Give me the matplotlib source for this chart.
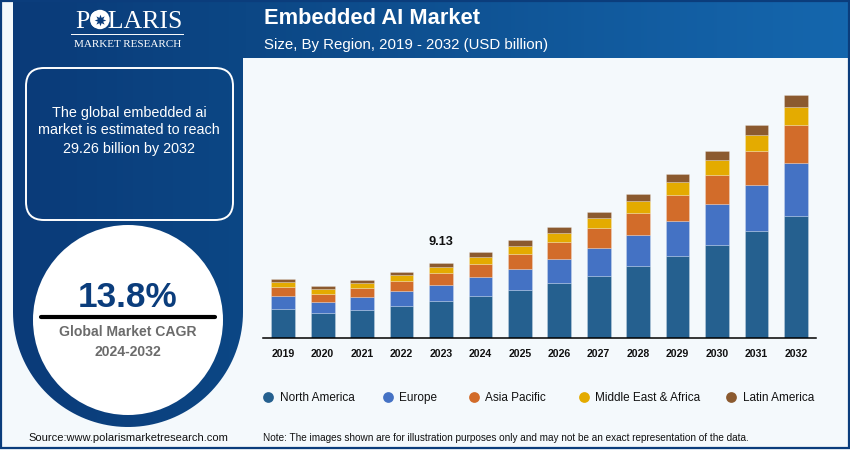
import numpy as np
import matplotlib
matplotlib.use("Agg")
import matplotlib.pyplot as plt
from matplotlib.colors import LinearSegmentedColormap
from matplotlib.patches import Circle, FancyBboxPatch, PathPatch, Rectangle
from matplotlib.path import Path

plt.rcParams['font.family'] = ['Liberation Sans', 'DejaVu Sans']

years = [2019, 2020, 2021, 2022, 2023, 2024, 2025, 2026, 2027, 2028, 2029, 2030, 2031, 2032]

north_america = [3.53, 3.05, 3.46, 3.94, 4.54, 5.14, 5.86, 6.66, 7.55, 8.71, 9.91, 11.28, 12.92, 14.73]
europe        = [1.57, 1.37, 1.52, 1.76, 1.93, 2.24, 2.53, 2.89, 3.37, 3.73, 4.26, 4.89, 5.54, 6.38]
asia_pacific  = [1.08, 0.96, 1.08, 1.20, 1.40, 1.57, 1.81, 2.10, 2.36, 2.65, 3.08, 3.49, 4.09, 4.62]
middle_east   = [0.65, 0.52, 0.60, 0.69, 0.77, 0.89, 0.96, 1.08, 1.20, 1.44, 1.57, 1.81, 1.93, 2.17]
latin_america = [0.36, 0.36, 0.41, 0.45, 0.48, 0.55, 0.64, 0.67, 0.77, 0.81, 0.93, 1.05, 1.17, 1.36]

region_names  = ["North America", "Europe", "Asia Pacific", "Middle East & Africa", "Latin America"]
region_values = [north_america, europe, asia_pacific, middle_east, latin_america]
region_colors = ["#25608f", "#4472c4", "#d26c2a", "#e4ab00", "#8b5a2f"]

# - pixel position of each legend marker
legend_x = [268.4, 387.8, 474, 584, 731.4]

label_year  = 2023
label_value = "9.13"

NAVY  = "#0b3d7c"
LIGHT = "#f4f9fc"
W, H  = 850, 450


def draw_background(ax):
    ax.set_xlim(0, W)
    ax.set_ylim(H, 0)
    ax.axis("off")

    # - header and left panel share one gradient
    angles = np.linspace(0, np.pi, 80)
    arc = np.column_stack([128 + 115 * np.cos(angles), 312 + 115 * np.sin(angles)])
    verts = np.vstack([[[13, 2], [W, 2], [W, 58], [243, 58]], arc, [[13, 2]]])
    shape = PathPatch(Path(verts), transform=ax.transData, facecolor="none", edgecolor="none")
    ax.add_patch(shape)

    cmap = LinearSegmentedColormap.from_list("header", [(0, "#0a3a78"), (0.29, "#0c4785"), (1, "#1567ae")])
    img = ax.imshow(np.linspace(0, 1, W).reshape(1, -1), cmap=cmap, extent=(0, W, H, 0), aspect="auto", zorder=1)
    img.set_clip_path(shape)
    ax.set_xlim(0, W)
    ax.set_ylim(H, 0)

    # - outer frame
    ax.add_patch(Rectangle((1, 1), W - 2, H - 3, fill=False, edgecolor=NAVY, linewidth=1.6, zorder=2))


def draw_logo(ax):
    ax.text(129, 22.5, "POLARIS", color="white", family="Liberation Serif", fontsize=18.6,
            ha="center", va="center", zorder=3)
    ax.add_patch(Circle((100, 19.5), 9.7, facecolor="white", edgecolor="none", zorder=4))
    ax.scatter([100], [19.5], marker=(8, 1, 0), s=70, color=NAVY, linewidths=0, zorder=5)
    ax.plot([71, 183], [34, 34], color="white", linewidth=0.7, zorder=3)
    ax.text(128, 44.5, "MARKET RESEARCH", color="white", family="Liberation Serif", fontsize=8,
            ha="center", va="center", zorder=3)


def draw_panel(ax):
    box = FancyBboxPatch((44, 86), 171, 116, boxstyle="round,pad=18,rounding_size=18", facecolor="none",
                         edgecolor="white", linewidth=1.4, zorder=3)
    ax.add_patch(box)

    for y, line in zip([112.5, 130.5, 148.5], ["The global embedded ai", "market is estimated to reach", "29.26 billion by 2032"]):
        ax.text(129, y, line, color="white", fontsize=10.4, ha="center", va="center", zorder=4)

    ax.add_patch(Circle((128, 320), 95, facecolor="white", edgecolor="none", zorder=3))
    ax.text(128, 297.5, "13.8%", color=NAVY, fontsize=25.3, fontweight="bold", ha="center", va="center", zorder=4)
    ax.plot([41, 215], [316.7, 316.7], color="black", linewidth=3, solid_capstyle="round", zorder=4)
    ax.text(128, 332.5, "Global Market CAGR", color="#6b6b6b", fontsize=10.05, fontweight="bold",
            ha="center", va="center", zorder=4)
    ax.text(128, 351.5, "2024-2032", color="#6b6b6b", fontsize=10.05, fontweight="bold",
            ha="center", va="center", zorder=4)


def draw_text(ax):
    ax.text(264, 18.5, "Embedded AI Market", color="white", fontsize=15.75, fontweight="bold", va="center", zorder=3)
    ax.text(264, 44.5, "Size, By Region, 2019 - 2032 (USD billion)", color="white", fontsize=10.85, va="center", zorder=3)
    ax.text(28, 437.7, "Source:www.polarismarketresearch.com", color="#111111", fontsize=8, va="center", zorder=3)
    ax.text(263, 437.7, "Note: The images shown are for illustration purposes only and may not be an exact representation of the data.",
            color="#111111", fontsize=7.17, va="center", zorder=3)

    # - legend is spaced unevenly in the original, so place each entry on its own
    for x, name, color in zip(legend_x, region_names, region_colors):
        ax.scatter([x], [397], s=60, color=color, linewidths=0, zorder=3)
        ax.text(x + 11.2, 401, name, color="#111111", fontsize=8.5, va="baseline", zorder=3)


def draw_bars(ax):
    ax.patch.set_alpha(0)
    x = np.arange(len(years))
    bottom = np.zeros(len(years))

    for values, name, color in zip(region_values, region_names, region_colors):
        ax.bar(x, values, width=0.6, bottom=bottom, color=color, label=name, edgecolor="#ffffff40", linewidth=0.6)
        bottom += np.array(values)

    idx = years.index(label_year)
    ax.annotate(label_value, (x[idx], bottom[idx]), xytext=(0, 15), textcoords="offset points",
                ha="center", va="center", fontsize=9.2, fontweight="bold", color="#111111")

    ax.set_xlim(-0.515, 13.51)
    ax.set_ylim(0, 30)
    ax.set_xticks(x, [str(year) for year in years], fontsize=7.6, fontweight="bold", color="#111111")
    ax.set_yticks([])
    ax.tick_params(axis="x", length=0, pad=8)

    for side in ["top", "left", "right"]:
        ax.spines[side].set_visible(False)
    ax.spines["bottom"].set_linewidth(1.1)
    ax.spines["bottom"].set_color("black")


def main():
    fig = plt.figure(figsize=(W / 100, H / 100), dpi=100, facecolor=LIGHT)

    ax_bg = fig.add_axes([0, 0, 1, 1])
    draw_background(ax_bg)
    draw_logo(ax_bg)
    draw_panel(ax_bg)
    draw_text(ax_bg)

    # - chart axes, baseline at y=338 and 30 billion at y=89
    ax = fig.add_axes([263 / W, 1 - 338.3 / H, 553 / W, 249.2 / H])
    draw_bars(ax)

    fig.savefig("out.png", dpi=100, facecolor=LIGHT)


if __name__ == "__main__":
    main()
